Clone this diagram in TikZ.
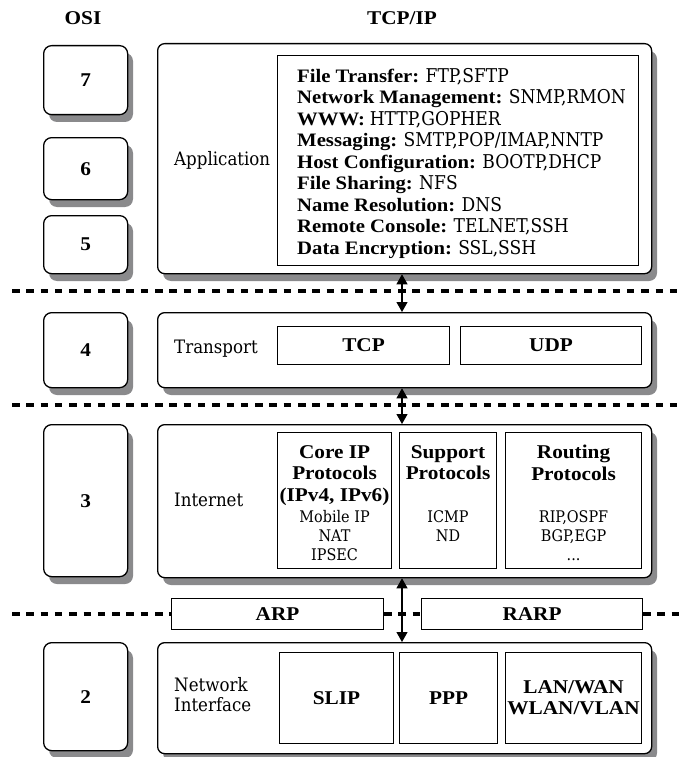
\documentclass[tikz,border=0pt]{standalone}
\usepackage{fontspec}
\setmainfont{Liberation Serif}
\newfontfamily\boldface[FakeStretch=1.09]{Liberation Serif Bold}
\newfontfamily\plainface[FakeStretch=0.9]{DejaVu Serif}
\usetikzlibrary{arrows.meta}

\definecolor{shadowgray}{RGB}{138,138,140}

\tikzset{
  x=1pt, y=-1pt,
  osibox/.style={draw, line width=1.3pt, rounded corners=8pt, fill=white,
    inner sep=0pt, anchor=north west, minimum width=84pt,
    font=\boldface\fontsize{19.5}{21}\selectfont},
  layer/.style={draw, line width=1.3pt, rounded corners=7pt, fill=white,
    inner sep=0pt, anchor=north west, minimum width=494pt},
  boxshadow/.style={fill=shadowgray, rounded corners=8pt},
  inbox/.style={draw, line width=1.1pt, fill=white, inner sep=0pt, anchor=north west, align=center},
  bold/.style={font=\boldface\fontsize{19.5}{21}\selectfont},
  plain/.style={font=\plainface\fontsize{18.5}{20}\selectfont},
  headline/.style={bold, inner sep=0pt},
  sep/.style={line width=4pt, dash pattern=on 7.5pt off 6.8pt},
  link/.style={line width=1.2pt, {Triangle[length=10pt,width=11pt]}-{Triangle[length=10pt,width=11pt]}},
}

\begin{document}
\begin{tikzpicture}
  \useasboundingbox (0,0) rectangle (684,757);

  % column headings
  \node[headline] (osihead) at (83,18) {OSI};
  \node[headline] (tcphead) at (402,18) {TCP/IP};

  % drop shadows, offset down and to the right of each rounded box
  \fill[boxshadow] (49,53)  rectangle (133,122);
  \fill[boxshadow] (49,145) rectangle (133,207);
  \fill[boxshadow] (49,223) rectangle (133,281);
  \fill[boxshadow] (49,320) rectangle (133,395);
  \fill[boxshadow] (49,432) rectangle (133,584);
  \fill[boxshadow] (49,650) rectangle (133,758);
  \fill[boxshadow] (163,51)  rectangle (657,281);
  \fill[boxshadow] (163,320) rectangle (657,395);
  \fill[boxshadow] (163,432) rectangle (657,585);
  \fill[boxshadow] (163,650) rectangle (657,761);

  % OSI reference layers
  \node[osibox, minimum height=69pt] (o7) at (43,45) {7};
  \node[osibox, minimum height=62pt] (o6) at (43,137) {6};
  \node[osibox, minimum height=58pt] (o5) at (43,215) {5};
  \node[osibox, minimum height=75pt] (o4) at (43,312) {4};
  \node[osibox, minimum height=152pt] (o3) at (43,424) {3};
  \node[osibox, minimum height=108pt] (o2) at (43,642) {2};

  % TCP/IP layers
  \node[layer, minimum height=230pt] (app) at (157,43) {};
  \node[layer, minimum height=75pt] (trans) at (157,312) {};
  \node[layer, minimum height=153pt] (inet) at (157,424) {};
  \node[layer, minimum height=111pt] (nif) at (157,642) {};

  % layer names
  \node[plain, anchor=west, inner sep=0pt] (appname) at (174,160) {Application};
  \node[plain, anchor=west, inner sep=0pt] (transname) at (174,349) {Transport};
  \node[plain, anchor=west, inner sep=0pt] (inetname) at (174,500) {Internet};
  \node[plain, anchor=west, inner sep=0pt, align=left] (nifname) at (174,695) {Network\\Interface};

  % application protocols
  \node[inbox, minimum width=361pt, minimum height=210pt] (applist) at (277,55) {};
  \node[anchor=west, inner sep=0pt, align=left, font=\fontsize{19}{21.5}\selectfont] (apptext) at (297,163) {%
    {\boldface File Transfer:} {\plainface FTP,SFTP}\\
    {\boldface Network Management:} {\plainface SNMP,RMON}\\
    {\boldface WWW:} {\plainface HTTP,GOPHER}\\
    {\boldface Messaging:} {\plainface SMTP,POP/IMAP,NNTP}\\
    {\boldface Host Configuration:} {\plainface BOOTP,DHCP}\\
    {\boldface File Sharing:} {\plainface NFS}\\
    {\boldface Name Resolution:} {\plainface DNS}\\
    {\boldface Remote Console:} {\plainface TELNET,SSH}\\
    {\boldface Data Encryption:} {\plainface SSL,SSH}};

  % transport protocols
  \node[inbox, bold, minimum width=172pt, minimum height=38pt] (tcp) at (277,326) {TCP};
  \node[inbox, bold, minimum width=181pt, minimum height=38pt] (udp) at (460,326) {UDP};

  % internet protocols
  \node[inbox, minimum width=114pt, minimum height=136pt] (core) at (277,432) {};
  \node[inbox, minimum width=97pt, minimum height=136pt] (support) at (399,432) {};
  \node[inbox, minimum width=136pt, minimum height=136pt] (routing) at (505,432) {};
  \node[bold, anchor=north, inner sep=0pt, align=center, font=\boldface\fontsize{19.5}{21.5}\selectfont]
    (corehead) at ([yshift=-13pt]core.north) {Core IP\\Protocols\\(IPv4, IPv6)};
  \node[bold, anchor=north, inner sep=0pt, align=center, font=\boldface\fontsize{19.5}{21.5}\selectfont]
    (supphead) at ([yshift=-13pt]support.north) {Support\\Protocols};
  \node[bold, anchor=north, inner sep=0pt, align=center, font=\boldface\fontsize{19.5}{21.5}\selectfont]
    (routhead) at ([yshift=-13pt]routing.north) {Routing\\Protocols};
  \node[anchor=north, inner sep=0pt, align=center, font=\plainface\fontsize{16}{19}\selectfont]
    (coredet) at ([yshift=-78pt]core.north) {Mobile IP\\NAT\\IPSEC};
  \node[anchor=north, inner sep=0pt, align=center, font=\plainface\fontsize{16}{19}\selectfont]
    (suppdet) at ([yshift=-78pt]support.north) {ICMP\\ND};
  \node[anchor=north, inner sep=0pt, align=center, font=\plainface\fontsize{16}{19}\selectfont]
    (routdet) at ([yshift=-78pt]routing.north) {RIP,OSPF\\BGP,EGP\\...};

  % address resolution
  \node[inbox, bold, minimum width=212pt, minimum height=31pt] (arp) at (171,598) {ARP};
  \node[inbox, bold, minimum width=221pt, minimum height=31pt] (rarp) at (421,598) {RARP};

  % network interface protocols
  \node[inbox, bold, minimum width=114pt, minimum height=91pt] (slip) at (279,652) {SLIP};
  \node[inbox, bold, minimum width=98pt, minimum height=91pt] (ppp) at (399,652) {PPP};
  \node[inbox, bold, minimum width=136pt, minimum height=91pt] (lan) at (505,652) {LAN/WAN\\WLAN/VLAN};

  % layer separators
  \coordinate (sepL1) at (12,291);  \coordinate (sepR1) at (684,291);
  \coordinate (sepL2) at (12,405);  \coordinate (sepR2) at (684,405);
  \coordinate (sepL3) at (12,614);  \coordinate (sepR3) at (684,614);
  \draw[sep] (sepL1) -- (sepR1);
  \draw[sep] (sepL2) -- (sepR2);
  \draw[sep] (sepL3) -- (arp.west |- sepL3);
  \draw[sep] (arp.east |- sepL3) -- (rarp.west |- sepL3);
  \draw[sep] (rarp.east |- sepL3) -- (sepR3);

  % interfaces between layers
  \coordinate (ax) at (402,0);
  \draw[link] (app.south -| ax) -- (trans.north -| ax);
  \draw[link] (trans.south -| ax) -- (inet.north -| ax);
  \draw[link] (inet.south -| ax) -- (nif.north -| ax);
\end{tikzpicture}
\end{document}
